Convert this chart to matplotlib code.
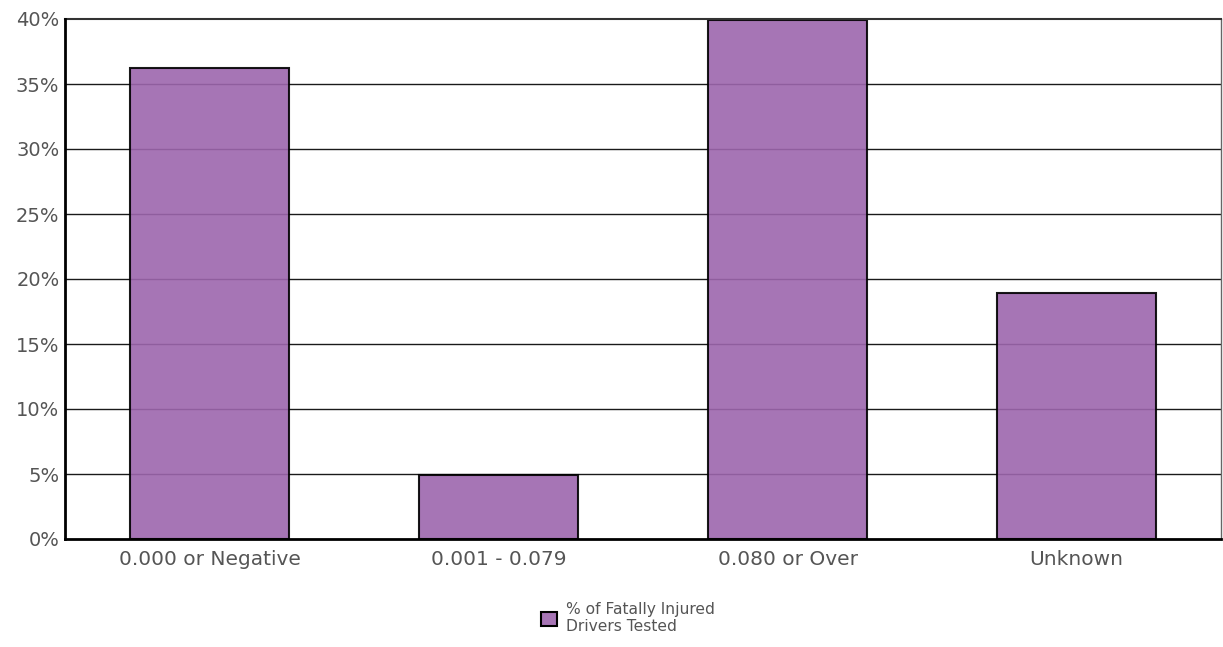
import matplotlib
matplotlib.use("Agg")
import matplotlib.pyplot as plt
from matplotlib.patches import Patch
from matplotlib.ticker import FuncFormatter

# data
categories = ["0.000 or Negative", "0.001 - 0.079", "0.080 or Over", "Unknown"]
pct_tested = [36.2, 4.9, 39.9, 18.9]
yticks = [0, 5, 10, 15, 20, 25, 30, 35, 40]
series_label = "% of Fatally Injured\nDrivers Tested"

BAR = "#9d66ad"   # drawn at alpha 0.9 -> looks like #a775b5 on white
TXT = "#555555"

plt.rcParams["font.family"] = ["DejaVu Sans"]

fig = plt.figure(figsize=(12.23, 6.47), dpi=100)
ax = fig.add_axes([65 / 1223, 1 - 539 / 647, 1156 / 1223, 520 / 647])

# grid lines sit behind slightly see-through bars
for t in yticks[1:-1]:
    ax.axhline(t, color="#1a1a1a", lw=1.0, zorder=1)

x = range(len(categories))
ax.bar(x, pct_tested, width=0.55, color=BAR, alpha=0.9, edgecolor="black",
       linewidth=1.5, zorder=2)

ax.set_xlim(-0.5, len(categories) - 0.5)
ax.set_ylim(0, 40)
ax.set_yticks(yticks)
ax.yaxis.set_major_formatter(FuncFormatter(lambda v, _: f"{v:.0f}%"))
ax.set_xticks(list(x))
ax.set_xticklabels(categories)
ax.tick_params(axis="both", length=0, labelsize=14, colors=TXT, pad=4)
ax.tick_params(axis="x", pad=8, labelsize=14.5)

for side in ("left", "bottom"):
    ax.spines[side].set_linewidth(2.0)
    ax.spines[side].set_color("black")
    ax.spines[side].set_zorder(4)
ax.spines["top"].set_linewidth(1.5)
ax.spines["top"].set_color("#333333")
ax.spines["right"].set_linewidth(1.0)
ax.spines["right"].set_color("#666666")

handle = Patch(facecolor="#a775b5", edgecolor="black", linewidth=1.5)
fig.legend([handle], [series_label], loc="center", bbox_to_anchor=(628 / 1223, 1 - 618 / 647),
           frameon=False, fontsize=11.2, labelcolor=TXT, handlelength=1.0, handleheight=1.0,
           handletextpad=0.6, labelspacing=0.2)

fig.savefig("out.png", dpi=100)
